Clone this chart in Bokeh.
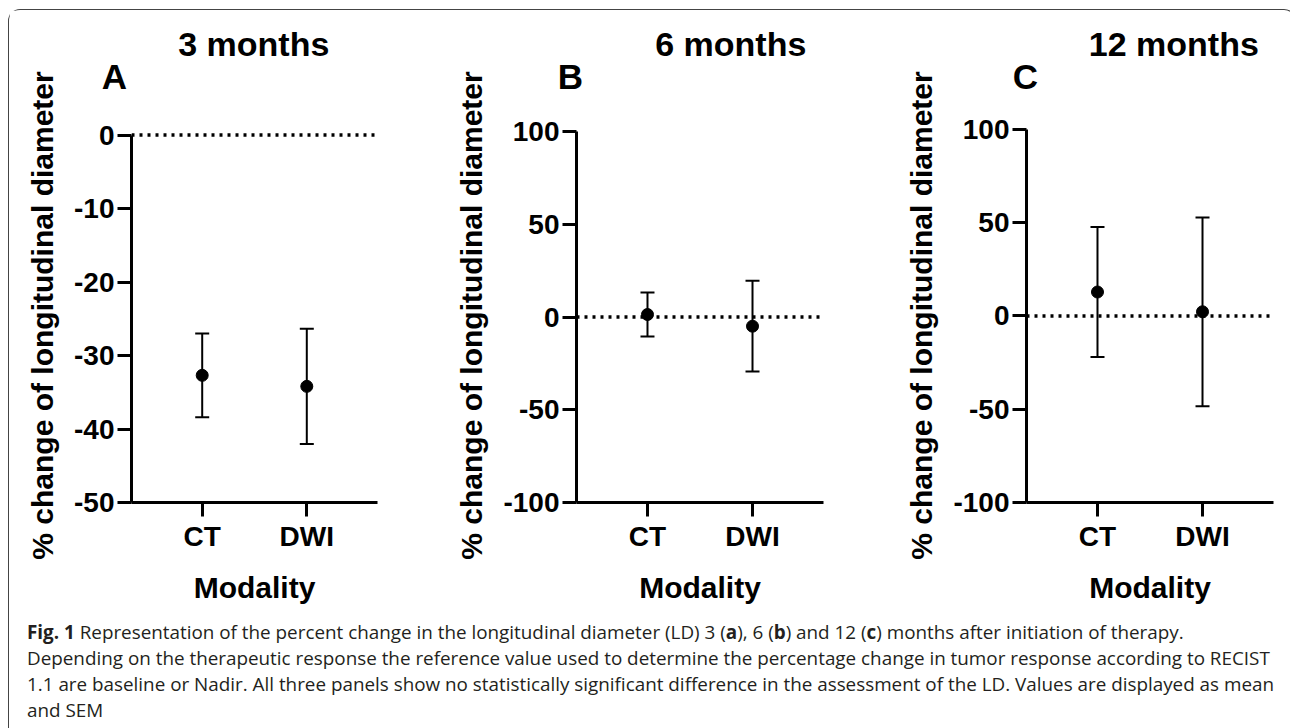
from bokeh.plotting import figure
from bokeh.models import Range1d, FixedTicker, Span, Whisker, TeeHead, ColumnDataSource, Label, Div
from bokeh.layouts import row, column
from bokeh.embed import file_html
from bokeh.resources import INLINE

# ---------------- data ----------------
categories = ["CT", "DWI"]
titles = ["3 months", "6 months", "12 months"]
letters = ["A", "B", "C"]
mean_3m = [-32.7, -34.2]
sem_3m = [5.7, 7.85]
mean_6m = [1.4, -4.9]
sem_6m = [11.9, 24.5]
mean_12m = [12.8, 2.2]
sem_12m = [34.8, 50.6]
yticks_3m = [-50, -40, -30, -20, -10, 0]
yticks_6m = [-100, -50, 0, 50, 100]
yticks_12m = [-100, -50, 0, 50, 100]
y_label = "% change of longitudinal diameter"
x_label = "Modality"

caption_lines = [
    '<b>Fig. 1</b> Representation of the percent change in the longitudinal diameter (LD) 3 (<b>a</b>), 6 (<b>b</b>) and 12 (<b>c</b>) months after initiation of therapy.',
    'Depending on the therapeutic response the reference value used to determine the percentage change in tumor response according to RECIST',
    '1.1 are baseline or Nadir. All three panels show no statistically significant difference in the assessment of the LD. Values are displayed as mean',
    'and SEM',
]

FONT = "Liberation Sans"
H = 598
X0, X1 = 0.324, 2.676
FIG_TOP = 10.5       # page y of the figures' top edge
BT = 118
BB = 106
FRAME_TOP = FIG_TOP + BT          # common frame top (page y)
FRAME_BOT = FIG_TOP + H - BB      # common frame bottom (page y)


def make_panel(title, letter, means, sems, yticks, width, bl, br, axis_top, title_cx, letter_lx):
    ymin, ymax = min(yticks), max(yticks)
    frame_h = FRAME_BOT - FRAME_TOP
    # extend the range above ymax so that ymax sits at this panel's axis top
    ppu = (FRAME_BOT - axis_top) / (ymax - ymin)
    yend = ymax + (axis_top - FRAME_TOP) / ppu
    p = figure(width=width, height=H, min_border_left=bl, min_border_right=br,
               min_border_top=BT, min_border_bottom=BB,
               x_range=Range1d(X0, X1), y_range=Range1d(ymin, yend),
               output_backend="svg", toolbar_location=None, tools="")
    p.grid.visible = False
    p.outline_line_color = None
    p.background_fill_color = "white"
    p.border_fill_color = "white"

    xs = [i + 1 for i in range(len(categories))]
    src = ColumnDataSource(dict(x=xs, mean=means,
                                upper=[m + s for m, s in zip(means, sems)],
                                lower=[m - s for m, s in zip(means, sems)]))

    zero = Span(location=0, dimension="width", line_color="black", line_width=3.5,
                line_dash="3 5", level="underlay")
    p.add_layout(zero)

    w = Whisker(base="x", upper="upper", lower="lower", source=src, line_width=2,
                line_color="black",
                upper_head=TeeHead(size=14, line_width=2, line_color="black"),
                lower_head=TeeHead(size=14, line_width=2, line_color="black"))
    p.add_layout(w)
    p.scatter("x", "mean", source=src, size=12, color="black")

    for ax in (p.xaxis[0], p.yaxis[0]):
        ax.axis_line_width = 3
        ax.major_tick_line_width = 3
        ax.major_tick_out = 14
        ax.major_tick_in = 0
        ax.minor_tick_line_color = None
        ax.major_label_text_font = FONT
        ax.major_label_text_font_style = "bold"
        ax.major_label_text_font_size = "28px"
        ax.major_label_text_color = "black"
        ax.axis_label_text_font = FONT
        ax.axis_label_text_font_style = "bold"
        ax.axis_label_text_font_size = "30px"
        ax.axis_label_text_color = "black"

    p.xaxis.ticker = FixedTicker(ticks=xs)
    p.xaxis.major_label_overrides = {x: c for x, c in zip(xs, categories)}
    p.xaxis.major_label_standoff = 4
    p.xaxis.axis_label = x_label
    p.xaxis.axis_label_standoff = 16

    p.yaxis.ticker = FixedTicker(ticks=yticks)
    p.yaxis.bounds = (ymin, ymax)
    p.yaxis.major_label_overrides = {t: str(t) for t in yticks}
    p.yaxis.major_label_standoff = 3
    p.yaxis.axis_label = y_label
    p.yaxis.axis_label_standoff = 12

    frame_w = width - bl - br

    def x_of(px):
        return X0 + px / frame_w * (X1 - X0)

    def y_of(page_y):
        return yend + (FRAME_TOP - page_y) / frame_h * (yend - ymin)

    p.add_layout(Label(x=x_of(letter_lx), y=y_of(76.5), text=letter,
                       text_font=FONT, text_font_style="bold", text_font_size="35px",
                       text_align="left", text_baseline="alphabetic", text_color="black"),
                 "above")
    p.add_layout(Label(x=x_of(title_cx), y=y_of(43.5), text=title,
                       text_font=FONT, text_font_style="bold", text_font_size="34px",
                       text_align="center", text_baseline="alphabetic", text_color="black"),
                 "above")
    return p


pA = make_panel(titles[0], letters[0], mean_3m, sem_3m, yticks_3m, 430, 122, 62, 135.0, 122.3, -29.7)
pB = make_panel(titles[1], letters[1], mean_6m, sem_6m, yticks_6m, 440, 137, 56, 131.7, 154.3, -18.7)
pC = make_panel(titles[2], letters[2], mean_12m, sem_12m, yticks_12m, 406, 147, 12, 129.3, 147.3, -13.7)

caption = Div(text="<br>".join(caption_lines), width=1276, height=116,
              styles={"font-family": "'Open Sans', sans-serif", "font-size": "18.85px",
                      "line-height": "26px", "white-space": "nowrap", "color": "#231f20",
                      "padding": "5.5px 0 0 13px", "overflow": "hidden",
                      "box-sizing": "border-box"})

layout = column(row(pA, pB, pC), caption,
                styles={"border": "1.5px solid #444", "border-bottom": "none",
                        "border-radius": "12px 12px 0 0", "margin": "9px 0 0 8px"})

open("out.html", "w").write(file_html(layout, INLINE))
